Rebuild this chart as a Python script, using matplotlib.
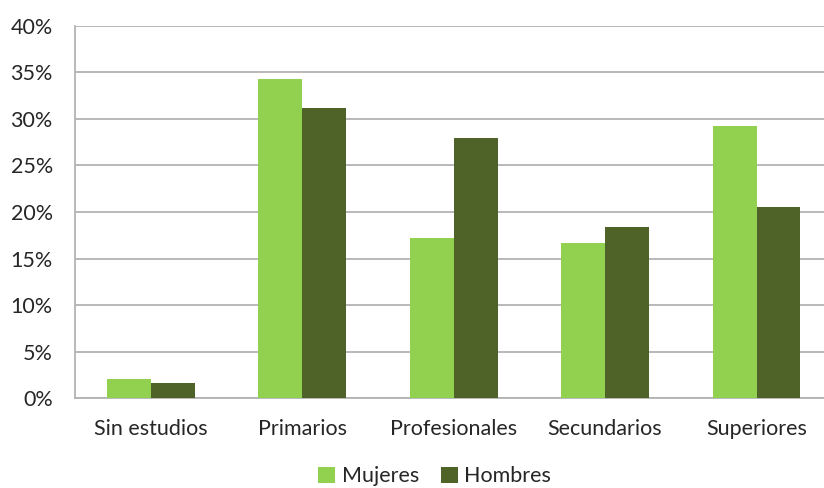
import matplotlib
matplotlib.use('Agg')
import matplotlib.pyplot as plt
import numpy as np
from matplotlib.ticker import FuncFormatter

# Datos
categorias = ['Sin estudios', 'Primarios', 'Profesionales', 'Secundarios', 'Superiores']
mujeres = [2.1, 34.3, 17.2, 16.7, 29.2]
hombres = [1.6, 31.2, 28.0, 18.4, 20.5]

plt.rcParams['font.family'] = ['Lato', 'DejaVu Sans']

fig = plt.figure(figsize=(8.24, 4.88), dpi=100)
ax = fig.add_axes([0.091, 0.184, 0.919, 0.763])

x = np.arange(len(categorias))
ancho = 0.29
ax.bar(x - ancho / 2, mujeres, ancho, color='#92D050', label='Mujeres', zorder=3)
ax.bar(x + ancho / 2, hombres, ancho, color='#4F6228', label='Hombres', zorder=3)

ax.set_xlim(-0.5, len(categorias) - 0.5)
ax.set_ylim(0, 40)
ax.set_yticks(range(0, 41, 5))
ax.yaxis.set_major_formatter(FuncFormatter(lambda v, p: f'{int(v)}%'))
ax.set_xticks(x)
ax.set_xticklabels(categorias)
ax.tick_params(axis='both', length=0, labelsize=15.5, colors='#262626')
ax.tick_params(axis='x', pad=15)
ax.tick_params(axis='y', pad=16)

ax.grid(axis='y', color='#B3B3B3', linewidth=1.3, zorder=0)
for s in ['top', 'right']:
    ax.spines[s].set_visible(False)
for s in ['left', 'bottom']:
    ax.spines[s].set_color('#B3B3B3')
    ax.spines[s].set_linewidth(1.3)

ax.legend(loc='center', bbox_to_anchor=(0.475, -0.21), ncol=2, frameon=False,
          fontsize=15.5, handlelength=0.8, handleheight=0.8, handletextpad=0.3,
          columnspacing=1.0, labelcolor='#262626', borderpad=0.2)

fig.savefig('out.png', dpi=100)
